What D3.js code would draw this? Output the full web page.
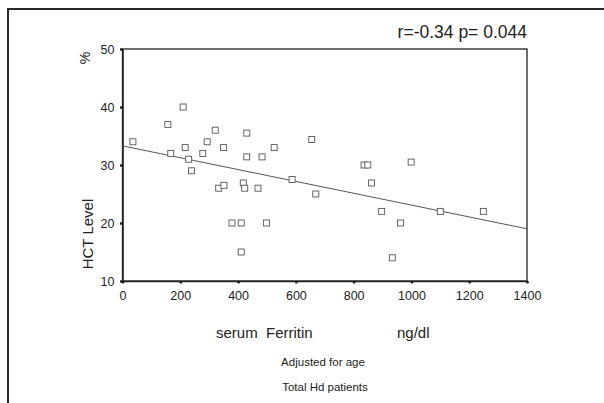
<!DOCTYPE html>
<html>
<head>
<meta charset="utf-8">
<script src="https://cdn.jsdelivr.net/npm/d3@7"></script>
<style>
  body { margin: 0; background: #fff; }
  text { font-family: "Liberation Sans", Arial, sans-serif; fill: #222; }
</style>
</head>
<body>
<div class="box"></div>
<script>
// Data (serum ferritin ng/dl, HCT %)
const ferritin = [36, 157, 167, 210, 217, 229, 239, 278, 293, 321, 350, 333, 351,
                  430, 430, 418, 423, 469, 483, 525, 587, 655, 669,
                  379, 411, 498, 411, 836, 849, 999, 862, 897, 1100, 1249, 962, 934];
const hct = [34, 37, 32, 40, 33, 31, 29, 32, 34, 36, 33, 26, 26.5,
             35.5, 31.4, 26.9, 26, 26, 31.4, 33, 27.5, 34.4, 25,
             20, 20, 20, 15, 30, 30, 30.5, 26.9, 22, 22, 22, 20, 14];
const fitLine = [[0, 33.3], [1400, 19.0]];
const xTicks = [0, 200, 400, 600, 800, 1000, 1200, 1400];
const yTicks = [10, 20, 30, 40, 50];

const points = ferritin.map((f, i) => ({x: f, y: hct[i]}));

const svg = d3.select('.box')
              .append('svg')
              .attr('width', 604)
              .attr('height', 403);

// outer frame
svg.append('path')
   .attr('d', 'M8,403 V9 H604')
   .attr('fill', 'none')
   .attr('stroke', '#2a2a2a')
   .attr('stroke-width', 2);

const margin = {top: 49, left: 122.5, right: 77, bottom: 122};
const graphWidth = 604 - margin.left - margin.right;
const graphHeight = 403 - margin.top - margin.bottom;

const graph = svg.append('g')
                 .attr('transform', `translate(${margin.left}, ${margin.top})`);

const x = d3.scaleLinear().domain([0, 1400]).range([0, graphWidth]);
const y = d3.scaleLinear().domain([10, 50]).range([graphHeight, 0]);

// plot box
graph.append('rect')
     .attr('width', graphWidth)
     .attr('height', graphHeight)
     .attr('fill', 'none')
     .attr('stroke', '#222')
     .attr('stroke-width', 1.3);

const axeX = d3.axisBottom(x).tickValues(xTicks).tickSize(0).tickPadding(10)
               .tickFormat(d3.format('d'));
const axeY = d3.axisLeft(y).tickValues(yTicks).tickSize(0).tickPadding(8)
               .tickFormat(d3.format('d'));

const gx = graph.append('g')
     .attr('transform', `translate(0, ${graphHeight})`)
     .call(axeX);
const gy = graph.append('g').call(axeY);

[gx, gy].forEach(g => {
  g.select('.domain').attr('stroke', '#222').attr('stroke-width', 1.6);
  g.selectAll('.tick text')
   .style('font-size', '12.5px')
   .style('font-family', '"Liberation Sans", Arial, sans-serif')
   .attr('fill', '#222');
});

// little tick squares
gx.selectAll('.tick').append('rect')
  .attr('x', -1.2).attr('y', 0).attr('width', 2.4).attr('height', 2.4).attr('fill', '#111');
gy.selectAll('.tick').append('rect')
  .attr('x', -2.4).attr('y', -1.2).attr('width', 2.4).attr('height', 2.4).attr('fill', '#111');

// regression line
graph.append('line')
     .attr('x1', x(fitLine[0][0])).attr('y1', y(fitLine[0][1]))
     .attr('x2', x(fitLine[1][0])).attr('y2', y(fitLine[1][1]))
     .attr('stroke', '#555')
     .attr('stroke-width', 1);

// points
graph.selectAll('rect.pt')
     .data(points)
     .enter()
     .append('rect')
     .attr('class', 'pt')
     .attr('x', d => x(d.x) - 3)
     .attr('y', d => y(d.y) - 3)
     .attr('width', 6)
     .attr('height', 6)
     .attr('fill', '#fff')
     .attr('stroke', '#555')
     .attr('stroke-width', 0.9);

// texts
svg.append('text')
   .attr('x', 527).attr('y', 38)
   .attr('text-anchor', 'end')
   .style('font-size', '17.5px')
   .text('r=-0.34 p= 0.044');

svg.append('text')
   .attr('transform', 'translate(90, 58) rotate(-90)')
   .attr('text-anchor', 'middle')
   .style('font-size', '14px')
   .text('%');

svg.append('text')
   .attr('transform', 'translate(93, 234) rotate(-90)')
   .attr('text-anchor', 'middle')
   .style('font-size', '15px')
   .text('HCT Level');

svg.append('text')
   .attr('x', 216).attr('y', 338)
   .style('font-size', '15px')
   .style('white-space', 'pre')
   .text('serum  Ferritin');

svg.append('text')
   .attr('x', 397).attr('y', 338)
   .style('font-size', '15px')
   .text('ng/dl');

svg.append('text')
   .attr('x', 323).attr('y', 366)
   .attr('text-anchor', 'middle')
   .style('font-size', '11.5px')
   .text('Adjusted for age');

svg.append('text')
   .attr('x', 325).attr('y', 391)
   .attr('text-anchor', 'middle')
   .style('font-size', '11.5px')
   .text('Total Hd patients');
</script>
</body>
</html>
